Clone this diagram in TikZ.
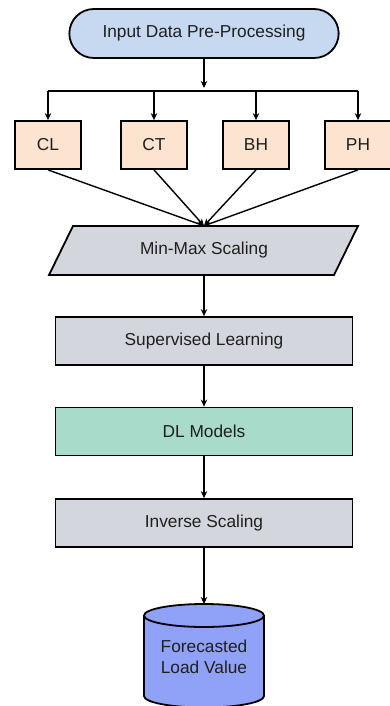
\documentclass[tikz,border=0pt]{standalone}
\usepackage{fontspec}
\setmainfont{Liberation Sans}
\usetikzlibrary{arrows.meta,shapes.misc}
\definecolor{termblue}{HTML}{C6D9F0}
\definecolor{peach}{HTML}{FCE4D0}
\definecolor{greybox}{HTML}{D3D6DC}
\definecolor{greenbox}{HTML}{A9DBCA}
\definecolor{cylblue}{HTML}{8FA2F7}
\begin{document}
\begin{tikzpicture}[x=1pt,y=1pt,
  every node/.style={font=\fontsize{17.3}{21}\selectfont, text=black!88},
  line/.style={line width=1.8pt, draw=black},
  arrow/.style={line width=1.8pt, draw=black, -{Stealth[length=7pt,width=6.5pt]}},
  term/.style={rounded rectangle, draw, line width=1.8pt, fill=termblue, minimum width=276pt, minimum height=49pt},
  var/.style={rectangle, draw, line width=1.8pt, fill=peach, minimum width=66pt, minimum height=48pt},
  proc/.style={rectangle, draw, line width=1.8pt, minimum width=297pt, minimum height=48pt},
  textonly/.style={inner sep=0pt}
]
\useasboundingbox (0,0) rectangle (389,-706);

\node[term] (start) at (204,-33.5) {Input Data Pre-Processing};
\coordinate (split) at (204,-88);
\coordinate (hl) at (0,-91);

\node[var] (cl) at (48,-145) {CL};
\node[var] (ct) at (154,-145) {CT};
\node[var] (bh) at (256,-145) {BH};
\node[var] (ph) at (358,-145) {PH};

% Min-Max parallelogram
\filldraw[line width=1.8pt, fill=greybox] (49,-275) -- (334,-275) -- (358,-226) -- (73,-226) -- cycle;
\node[textonly, minimum width=285pt, minimum height=49pt] (mm) at (204,-250.5) {Min-Max Scaling};

\node[proc, fill=greybox] (sl) at (204,-341) {Supervised Learning};
\node[proc, fill=greenbox] (dl) at (204,-431.5) {DL Models};
\node[proc, fill=greybox] (is) at (204,-523) {Inverse Scaling};

% cylinder
\filldraw[line width=1.8pt, fill=cylblue] (144,-615.5) -- (144,-696)
  arc[start angle=180, end angle=360, x radius=60pt, y radius=11.5pt]
  -- (264,-615.5)
  arc[start angle=0, end angle=180, x radius=60pt, y radius=11.5pt] -- cycle;
\draw[line width=1.8pt] (144,-615.5) arc[start angle=180, end angle=360, x radius=60pt, y radius=11.5pt];
\coordinate (fctop) at (204,-604);
\node[textonly, align=center] (fc) at (204,-657) {Forecasted\\Load Value};

% connectors
\draw[arrow] (start.south) -- (split);
\draw[line] (cl.north |- hl) -- (ph.north |- hl);
\foreach \n in {cl,ct,bh,ph}{
  \draw[arrow] (\n.north |- hl) -- (\n.north);
  \draw[arrow, line width=1.4pt] (\n.south) -- (mm.north);
}
\draw[arrow] (mm.south) -- (sl.north);
\draw[arrow] (sl.south) -- (dl.north);
\draw[arrow] (dl.south) -- (is.north);
\draw[arrow] (is.south) -- (fctop);
\end{tikzpicture}
\end{document}
